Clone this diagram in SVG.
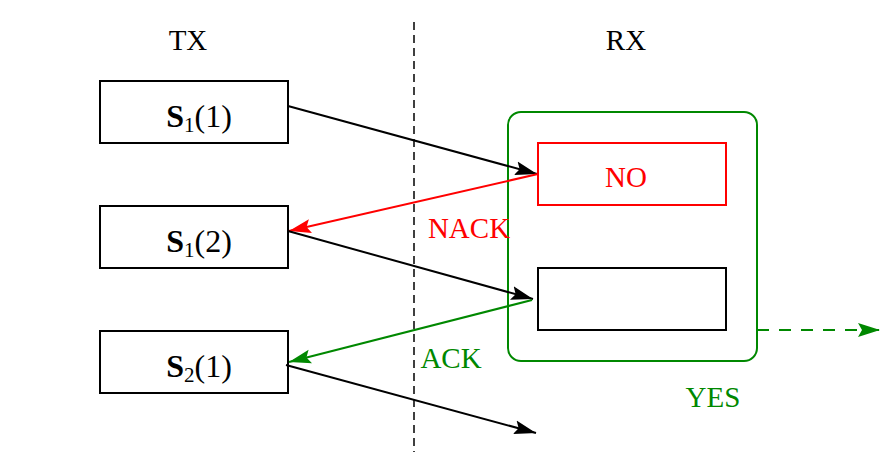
<svg xmlns="http://www.w3.org/2000/svg" width="889" height="454" viewBox="0 0 889 454">
<style>
text{font-family:"Liberation Serif","Times New Roman",serif;font-size:29px}
.box{fill:#fff;stroke:#000;stroke-width:2}
.lbl{text-anchor:middle}
.math{font-size:32px}
.ln{fill:none;stroke-width:2}
</style>
<defs>
<marker id="ab" markerWidth="24" markerHeight="16" refX="22" refY="8" orient="auto" markerUnits="userSpaceOnUse"><path d="M0,1 L22,8 L0,15 L4,8 Z" fill="#000"/></marker>
<marker id="ar" markerWidth="24" markerHeight="16" refX="22" refY="8" orient="auto" markerUnits="userSpaceOnUse"><path d="M0,1 L22,8 L0,15 L4,8 Z" fill="#ff0000"/></marker>
<marker id="ag" markerWidth="24" markerHeight="16" refX="22" refY="8" orient="auto" markerUnits="userSpaceOnUse"><path d="M0,1 L22,8 L0,15 L4,8 Z" fill="#008800"/></marker>
</defs>
<rect width="889" height="454" fill="#fff"/>
<text x="188" y="50" class="lbl">TX</text>
<text x="626" y="50" class="lbl">RX</text>
<line x1="414" y1="22" x2="414" y2="452" stroke="#000" stroke-width="1.5" stroke-dasharray="8,5"/>
<g id="rxgroup"><rect x="508" y="112" width="249" height="249" rx="13" fill="none" stroke="#008800" stroke-width="2"/></g>
<g id="s11"><rect class="box" x="100" y="81" width="188" height="62"/><text x="199" y="127" class="lbl math"><tspan font-weight="bold">S</tspan><tspan font-size="21" dy="5">1</tspan><tspan dy="-5">(1)</tspan></text></g>
<g id="s12"><rect class="box" x="100" y="206" width="188" height="62"/><text x="199" y="252" class="lbl math"><tspan font-weight="bold">S</tspan><tspan font-size="21" dy="5">1</tspan><tspan dy="-5">(2)</tspan></text></g>
<g id="s21"><rect class="box" x="100" y="331" width="188" height="62"/><text x="199" y="377" class="lbl math"><tspan font-weight="bold">S</tspan><tspan font-size="21" dy="5">2</tspan><tspan dy="-5">(1)</tspan></text></g>
<g id="no"><rect x="538" y="143" width="188" height="62" fill="#fff" stroke="#ff0000" stroke-width="2"/><text x="626" y="187" class="lbl" fill="#ff0000">NO</text></g>
<g id="empty"><rect class="box" x="538" y="268" width="188" height="62"/></g>
<g id="connectors">
<line class="ln" stroke="#000" x1="288" y1="106" x2="537" y2="174" marker-end="url(#ab)"/>
<line class="ln" stroke="#ff0000" x1="538" y1="174" x2="289" y2="231" marker-end="url(#ar)"/>
<line class="ln" stroke="#000" x1="288" y1="231" x2="533" y2="299" marker-end="url(#ab)"/>
<line class="ln" stroke="#008800" x1="532" y1="300" x2="289" y2="362" marker-end="url(#ag)"/>
<line class="ln" stroke="#000" x1="286" y1="365" x2="536" y2="433" marker-end="url(#ab)"/>
<line class="ln" stroke="#008800" x1="757" y1="330" x2="880" y2="330" stroke-dasharray="12,10" marker-end="url(#ag)"/>
</g>
<text x="469" y="238" class="lbl" fill="#ff0000">NACK</text>
<text x="451" y="368" class="lbl" fill="#008800">ACK</text>
<text x="713" y="407" class="lbl" fill="#008800">YES</text>
</svg>
